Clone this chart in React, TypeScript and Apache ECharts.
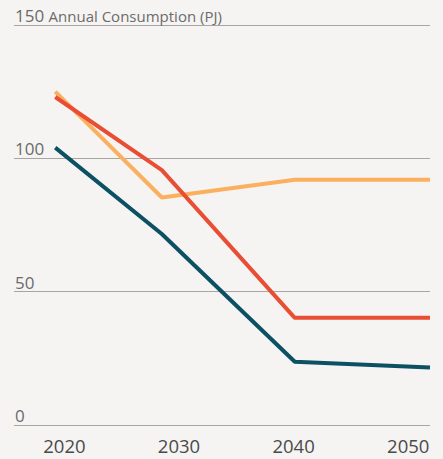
import React, { useEffect, useRef } from "react";
import * as echarts from "echarts";

const yearTicks = [2020, 2030, 2040, 2050];
const pointYears = [2019.2, 2028.5, 2040.1, 2051.9];
const orangeValues = [125, 85.3, 92, 92];
const redValues = [123, 95.6, 40.2, 40.2];
const tealValues = [104, 71.6, 23.7, 21.6];

const toPairs = (ys: number[]) => ys.map((v, i) => [pointYears[i], v]);

export default function App() {
  const ref = useRef<HTMLDivElement>(null);
  useEffect(() => {
    const chart = echarts.init(ref.current!, null, { renderer: "svg" });
    const font = "'Open Sans', Lato, sans-serif";
    chart.setOption({
      animation: false,
      backgroundColor: "#f5f4f2",
      grid: { left: 14, right: 13, top: 25, bottom: 34 },
      xAxis: {
        type: "value",
        min: 2015.6,
        max: 2051.9,
        axisLine: { show: false },
        axisTick: { show: false },
        splitLine: { show: false },
        axisLabel: {
          customValues: yearTicks,
          formatter: (v: number) => String(v),
          margin: 11,
          color: "#4a4a4a",
          fontSize: 18.5,
          fontFamily: font,
        },
      },
      yAxis: {
        type: "value",
        min: 0,
        max: 150,
        interval: 50,
        axisLine: { show: false },
        axisTick: { show: false },
        splitLine: { show: true, lineStyle: { color: "#a8a5a0", width: 1.2 } },
        axisLabel: {
          inside: true,
          margin: 1,
          verticalAlign: "bottom",
          padding: [0, 0, 1, 0],
          color: "#6b6b6b",
          fontSize: 17,
          fontFamily: font,
          formatter: (v: number) =>
            v === 150 ? `{n|${v}} {u|Annual Consumption (PJ)}` : `${v}`,
          rich: {
            n: { fontSize: 17, color: "#6b6b6b", fontFamily: font },
            u: { fontSize: 15, color: "#6b6b6b", fontFamily: font },
          },
        },
      },
      series: [
        {
          type: "line",
          data: toPairs(orangeValues),
          symbol: "none",
          lineStyle: { color: "#fbb060", width: 4 },
        },
        {
          type: "line",
          data: toPairs(redValues),
          symbol: "none",
          lineStyle: { color: "#e94e35", width: 4 },
        },
        {
          type: "line",
          data: toPairs(tealValues),
          symbol: "none",
          lineStyle: { color: "#0b5063", width: 4 },
        },
      ],
    });
    return () => chart.dispose();
  }, []);
  return <div ref={ref} style={{ width: 443, height: 459, position: "absolute", left: 0, top: 0 }} />;
}
